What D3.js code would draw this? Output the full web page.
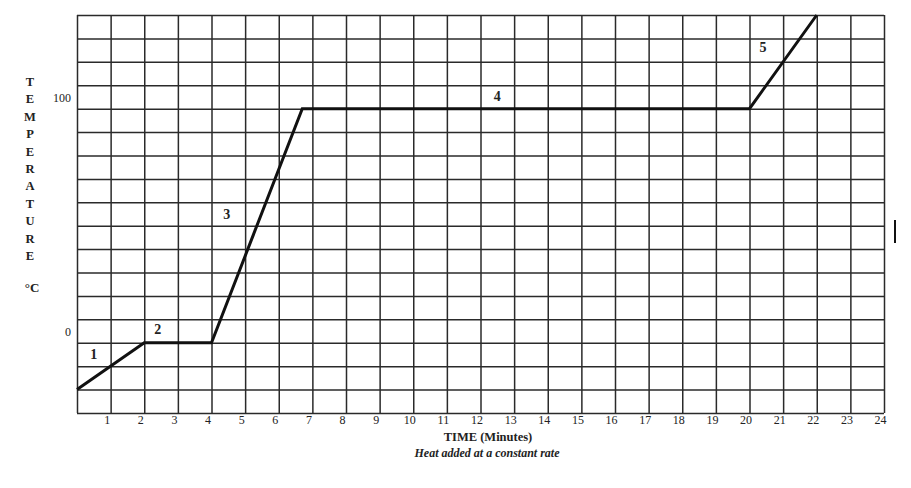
<!DOCTYPE html>
<html>
<head>
<meta charset="utf-8">
<script src="https://cdn.jsdelivr.net/npm/d3@7"></script>
<style>
  body { margin: 0; background: #fff; }
  text { font-family: "Liberation Serif", "DejaVu Serif", serif; fill: #222; }
</style>
</head>
<body>
<div id="svganchor"></div>
<script>
// heating curve data (minutes, degrees C)
const timeMin = [0, 2, 4, 6.7, 20, 22];
const tempC = [-20, 0, 0, 100, 100, 140];

const xTickLabels = d3.range(1, 25);
const yTickLabels = [0, 100];

const segNames = ["1", "2", "3", "4", "5"];
const segTime = [0.5, 2.4, 4.45, 12.5, 20.4];
const segTemp = [-5, 5.5, 55, 105, 126];

const yTitleLetters = "TEMPERATURE".split("");

let width = 911;
let height = 488;
let margin = { top: 15, right: 27, bottom: 75, left: 77 };

let svg = d3.select("#svganchor").append("svg").attr("width", width).attr("height", height);

let xScale = d3.scaleLinear().domain([0, 24]).range([margin.left, width - margin.right]);
let yScale = d3.scaleLinear().domain([-30, 140]).range([height - margin.bottom, margin.top]);

// grid
svg.append("g")
  .attr("class", "grid x")
  .attr("transform", "translate(0," + (height - margin.bottom) + ")")
  .call(d3.axisBottom(xScale).tickValues(d3.range(0, 25)).tickSize(-(height - margin.top - margin.bottom)).tickFormat(""))
  .call(g => g.select(".domain").remove());

svg.append("g")
  .attr("class", "grid y")
  .attr("transform", "translate(" + margin.left + ",0)")
  .call(d3.axisLeft(yScale).tickValues(d3.range(-30, 141, 10)).tickSize(-(width - margin.left - margin.right)).tickFormat(""))
  .call(g => g.select(".domain").remove());

svg.selectAll(".grid line")
  .attr("stroke", "#2a2a2a")
  .attr("stroke-width", 1.5);

// x tick labels
let xAxis = svg.append("g")
  .attr("transform", "translate(0," + (height - margin.bottom) + ")")
  .call(d3.axisBottom(xScale).tickValues(xTickLabels).tickSize(0).tickPadding(2).tickFormat(d3.format("d")));
xAxis.select(".domain").remove();
xAxis.selectAll("text")
  .attr("dx", -4)
  .style("font-family", "Liberation Serif")
  .style("font-size", "12px")
  .attr("fill", "#222");

// y tick labels sit a little above their lines
let yAxis = svg.append("g")
  .attr("transform", "translate(" + margin.left + ",0)")
  .call(d3.axisLeft(yScale).tickValues(yTickLabels).tickSize(0).tickPadding(6).tickFormat(d3.format("d")));
yAxis.select(".domain").remove();
yAxis.selectAll("text")
  .attr("dy", -7)
  .style("font-family", "Liberation Serif")
  .style("font-size", "12px")
  .attr("fill", "#222");

// heating curve
let line = d3.line()
  .x(function (d, i) { return xScale(timeMin[i]); })
  .y(function (d, i) { return yScale(tempC[i]); });

svg.append("path")
  .datum(timeMin)
  .attr("d", line)
  .attr("fill", "none")
  .attr("stroke", "#111")
  .attr("stroke-width", 3)
  .attr("stroke-linejoin", "miter");

// segment numbers
svg.selectAll(".seg")
  .data(segNames)
  .enter()
  .append("text")
  .attr("class", "seg")
  .attr("x", function (d, i) { return xScale(segTime[i]); })
  .attr("y", function (d, i) { return yScale(segTemp[i]); })
  .attr("text-anchor", "middle")
  .attr("dominant-baseline", "central")
  .style("font-size", "14px")
  .style("font-weight", "bold")
  .text(function (d) { return d; });

// vertical y title
svg.selectAll(".ytitle")
  .data(yTitleLetters)
  .enter()
  .append("text")
  .attr("class", "ytitle")
  .attr("x", 30)
  .attr("y", function (d, i) { return 82 + i * 17.4; })
  .attr("text-anchor", "middle")
  .attr("dominant-baseline", "central")
  .style("font-size", "12.5px")
  .style("font-weight", "bold")
  .text(function (d) { return d; });

svg.append("text")
  .attr("x", 32)
  .attr("y", 287)
  .attr("text-anchor", "middle")
  .attr("dominant-baseline", "central")
  .style("font-size", "13px")
  .style("font-weight", "bold")
  .text("\u00B0C");

// x titles
svg.append("text")
  .attr("x", 488)
  .attr("y", 437)
  .attr("text-anchor", "middle")
  .attr("dominant-baseline", "central")
  .style("font-size", "12.5px")
  .style("font-weight", "bold")
  .text("TIME (Minutes)");

svg.append("text")
  .attr("x", 487)
  .attr("y", 453)
  .attr("text-anchor", "middle")
  .attr("dominant-baseline", "central")
  .style("font-size", "12px")
  .style("font-weight", "bold")
  .style("font-style", "italic")
  .text("Heat added at a constant rate");

// stray mark at the right edge of the scan
svg.append("line")
  .attr("x1", 895).attr("x2", 895)
  .attr("y1", 220).attr("y2", 243)
  .attr("stroke", "#111")
  .attr("stroke-width", 2);
</script>
</body>
</html>
